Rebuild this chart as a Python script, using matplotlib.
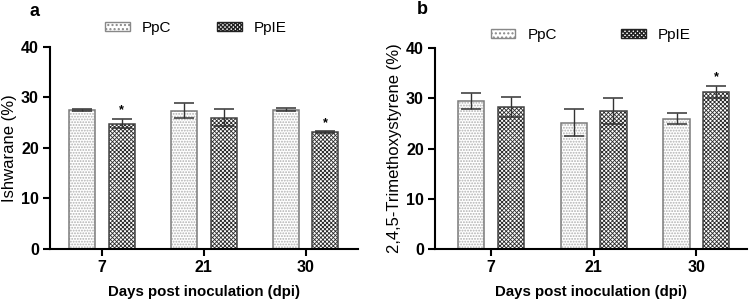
import matplotlib
matplotlib.use("Agg")
import matplotlib.pyplot as plt
import matplotlib.patches as mpatches
import numpy as np

plt.rcParams['font.family'] = ['Liberation Sans', 'DejaVu Sans']

days = ["7", "21", "30"]
series = ["PpC", "PpIE"]

a_ppc = [27.5, 27.4, 27.6]
a_ppc_err = [0.2, 1.5, 0.35]
a_ppie = [24.8, 26.0, 23.1]
a_ppie_err = [0.9, 1.7, 0.2]

b_ppc = [29.5, 25.1, 25.9]
b_ppc_err = [1.6, 2.7, 1.1]
b_ppie = [28.3, 27.4, 31.2]
b_ppie_err = [2.0, 2.6, 1.2]

a_sig = ([False, False, False], [True, False, True])
b_sig = ([False, False, False], [False, False, True])

PPC_HATCH = '......'
PPIE_HATCH = 'xxxxxxxx'

fig = plt.figure(figsize=(7.5, 3.02), dpi=100)
ax_a = fig.add_axes([0.0667, 0.1755, 0.4103, 0.669])
ax_b = fig.add_axes([0.58, 0.1745, 0.4156, 0.6675])


def draw(ax, ppc, ppc_err, ppie, ppie_err, sig, ylabel, xlim,
         leg_anchor, colsp):
    x = np.arange(len(days))
    w = 0.255
    off = 0.193
    with plt.rc_context({'hatch.linewidth': 0.9}):
        ax.bar(x - off, ppc, w, facecolor='white', edgecolor='#b0b0b0',
               hatch=PPC_HATCH, linewidth=0)
    ax.bar(x - off, ppc, w, fill=False, edgecolor='#7a7a7a', linewidth=1.1)
    with plt.rc_context({'hatch.linewidth': 0.6}):
        ax.bar(x + off, ppie, w, facecolor='white', edgecolor='#2a2a2a',
               hatch=PPIE_HATCH, linewidth=0)
    ax.bar(x + off, ppie, w, fill=False, edgecolor='#444444', linewidth=1.1)
    ax.errorbar(x - off, ppc, yerr=ppc_err, fmt='none', ecolor='#333333',
                elinewidth=1.0, capsize=7, capthick=1.1)
    ax.errorbar(x + off, ppie, yerr=ppie_err, fmt='none', ecolor='#333333',
                elinewidth=1.0, capsize=7, capthick=1.1)
    for i in range(len(days)):
        if sig[0][i]:
            ax.text(x[i] - off, ppc[i] + ppc_err[i] + 0.5, '*', ha='center',
                    va='bottom', fontsize=9, fontweight='bold')
        if sig[1][i]:
            ax.text(x[i] + off, ppie[i] + ppie_err[i] + 0.5, '*', ha='center',
                    va='bottom', fontsize=9, fontweight='bold')
    ax.set_ylim(0, 40)
    ax.set_xlim(*xlim)
    ax.set_yticks([0, 10, 20, 30, 40])
    ax.set_xticks(x)
    ax.set_xticklabels(days)
    for s in ['top', 'right']:
        ax.spines[s].set_visible(False)
    for s in ['left', 'bottom']:
        ax.spines[s].set_linewidth(1.5)
    ax.tick_params(axis='both', width=1.5, length=5, labelsize=11.5, pad=3)
    for t in ax.get_xticklabels() + ax.get_yticklabels():
        t.set_fontweight('bold')
    ax.set_xlabel('Days post inoculation (dpi)', fontsize=10.8,
                  fontweight='bold', labelpad=7)
    ax.set_ylabel(ylabel, fontsize=12, labelpad=3)
    with plt.rc_context({'hatch.linewidth': 0.6}):
        h1 = mpatches.Patch(facecolor='white', edgecolor='#888888',
                            hatch='....', label=series[0])
        h2 = mpatches.Patch(facecolor='white', edgecolor='#222222',
                            hatch=PPIE_HATCH, label=series[1])
    ax.legend(handles=[h1, h2], loc='center', bbox_to_anchor=leg_anchor,
              ncol=2, frameon=False, fontsize=11, handlelength=1.6,
              handleheight=0.55, columnspacing=colsp, handletextpad=0.8,
              borderpad=0)
    return ax


draw(ax_a, a_ppc, a_ppc_err, a_ppie, a_ppie_err, a_sig, 'Ishwarane (%)',
     (-0.51, 2.51), (0.475, 1.094), 3.0)
draw(ax_b, b_ppc, b_ppc_err, b_ppie, b_ppie_err, b_sig,
     '2,4,5-Trimethoxystyrene (%)', (-0.543, 2.49), (0.5, 1.063), 4.2)

fig.text(35 / 750, 1 - 12 / 302, 'a', fontsize=13, fontweight='bold',
         ha='center', va='center')
fig.text(422 / 750, 1 - 10 / 302, 'b', fontsize=13, fontweight='bold',
         ha='center', va='center')

fig.savefig('out.png', dpi=100)
